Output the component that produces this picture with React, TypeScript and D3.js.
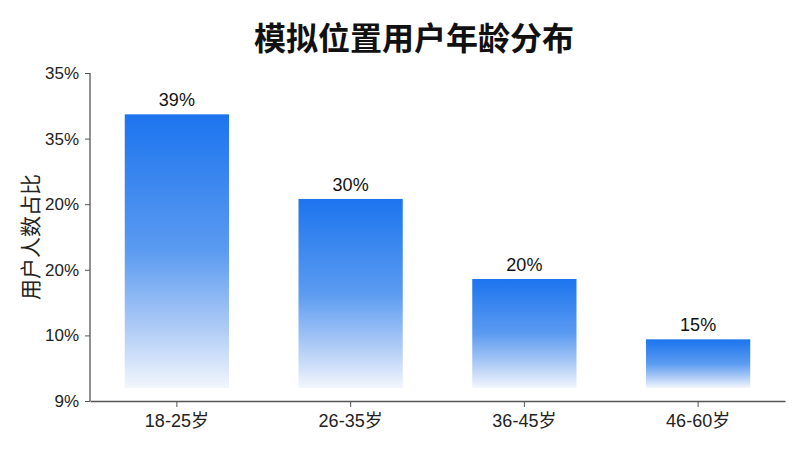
import React from 'react';
import { scaleBand, scaleLinear, select, axisLeft, axisBottom } from 'd3';

// categories + values
const ageGroups = ['18-25岁', '26-35岁', '36-45岁', '46-60岁'];
const shares = [43.7, 30.8, 18.6, 9.4];
const barLabels = ['39%', '30%', '20%', '15%'];
const tickValues = [0, 10, 20, 30, 40, 50];
const tickLabels = ['9%', '10%', '20%', '20%', '35%', '35%'];

const dims = {
  width: 800,
  height: 450,
  left: 90,
  right: 785,
  top: 73,
  bottom: 401,
};

const FONT = '"Liberation Sans", "Noto Sans CJK SC", sans-serif';

const App: React.FC = () => {
  const svgRef = React.useRef<SVGSVGElement>(null);

  const x = scaleBand()
    .domain(ageGroups)
    .range([dims.left, dims.right])
    .paddingInner(0.4)
    .paddingOuter(0.2);

  const y = scaleLinear().domain([0, 50]).range([dims.bottom, dims.top]);

  React.useEffect(() => {
    const svg = select(svgRef.current);
    svg.selectAll('*').remove();

    const defs = svg.append('defs');
    const grad = defs
      .append('linearGradient')
      .attr('id', 'barFade')
      .attr('x1', 0)
      .attr('y1', 0)
      .attr('x2', 0)
      .attr('y2', 1);
    grad.append('stop').attr('offset', '0%').attr('stop-color', '#1c74ee');
    grad.append('stop').attr('offset', '50%').attr('stop-color', '#5b9bf1');
    grad.append('stop').attr('offset', '78%').attr('stop-color', '#aecbf6');
    grad.append('stop').attr('offset', '100%').attr('stop-color', '#f2f6fd');

    // title
    svg
      .append('text')
      .attr('x', 414)
      .attr('y', 50)
      .attr('text-anchor', 'middle')
      .attr('font-family', FONT)
      .attr('font-size', 32)
      .attr('font-weight', 'bold')
      .attr('fill', '#111')
      .text('模拟位置用户年龄分布');

    // y axis title
    svg
      .append('text')
      .attr('transform', 'translate(38, 237) rotate(-90)')
      .attr('text-anchor', 'middle')
      .attr('font-family', FONT)
      .attr('font-size', 21)
      .attr('fill', '#222')
      .text('用户人数占比');

    // bars
    svg
      .append('g')
      .selectAll('rect')
      .data(shares)
      .join('rect')
      .attr('x', (d, i) => x(ageGroups[i]))
      .attr('y', d => y(d))
      .attr('width', x.bandwidth())
      .attr('height', d => y(0) - y(d) - 13)
      .attr('fill', 'url(#barFade)');

    // value labels
    svg
      .append('g')
      .selectAll('text')
      .data(shares)
      .join('text')
      .attr('x', (d, i) => x(ageGroups[i]) + x.bandwidth() / 2)
      .attr('y', d => y(d) - 8)
      .attr('text-anchor', 'middle')
      .attr('font-family', FONT)
      .attr('font-size', 18)
      .attr('fill', '#111')
      .text((d, i) => barLabels[i]);

    const yAxis = axisLeft(y)
      .tickValues(tickValues)
      .tickSize(5)
      .tickPadding(6)
      .tickFormat((d, i) => tickLabels[i]);
    const yG = svg
      .append('g')
      .attr('transform', `translate(${dims.left}, 0)`)
      .call(yAxis);

    const xAxis = axisBottom(x).tickSize(6).tickPadding(7).tickSizeOuter(0);
    const xG = svg
      .append('g')
      .attr('transform', `translate(0, ${dims.bottom})`)
      .call(xAxis);

    [yG, xG].forEach(g => {
      g.select('.domain').attr('stroke', '#555').attr('stroke-width', 1.3);
      g.selectAll('.tick line').attr('stroke', '#555');
      g.selectAll('.tick text')
        .attr('font-family', FONT)
        .attr('fill', '#222');
    });
    yG.selectAll('.tick text').attr('font-size', 17);
    xG.selectAll('.tick text').attr('font-size', 18);
    // only vertical line for the y axis, no outer ticks
    yG.select('.domain').attr('d', `M0,${dims.top}V${dims.bottom}`);
  }, []);

  return (
    <div style={{ position: 'absolute', left: 0, top: 0 }}>
      <svg ref={svgRef} width={dims.width} height={dims.height} style={{ display: 'block', background: '#fff' }}></svg>
    </div>
  );
};

export default App;
